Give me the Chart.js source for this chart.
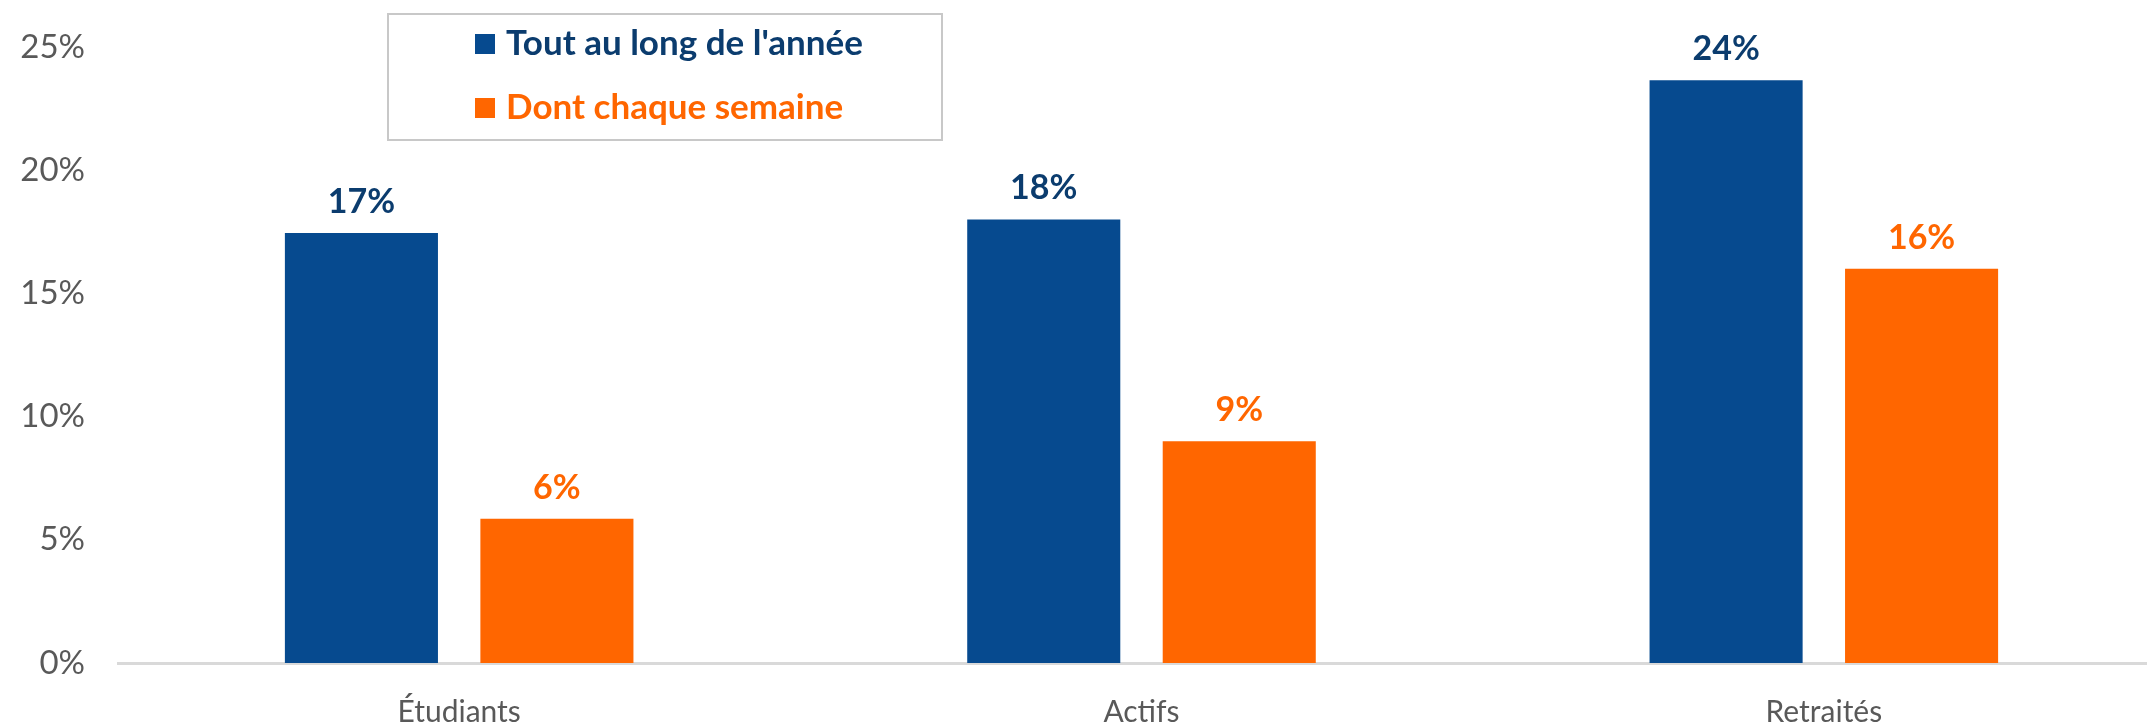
<!DOCTYPE html>
<html lang="fr">
<head>
<meta charset="UTF-8">
<title>Fréquence par statut</title>
<script src="https://cdn.jsdelivr.net/npm/chart.js"></script>
<style>
  html, body { margin: 0; padding: 0; background: #fff; overflow: hidden; }
  .chart-box { position: relative; width: 2165px; height: 761px; }
</style>
</head>
<body>
<div class="chart-box"><canvas id="chart"></canvas></div>
<script>
// données (en %)
const categories = ['Étudiants', 'Actifs', 'Retraités'];
const seriesNames = ["Tout au long de l'année", 'Dont chaque semaine'];
const toutAuLong = [17.45, 18.0, 23.65];
const chaqueSemaine = [5.85, 9.0, 16.0];
const yMax = 25;
const yStep = 5;

const barColors = ['#064A8F', '#FF6600'];
const labelColors = ['#0B3C6E', '#FF6600'];

// étiquettes de valeur au-dessus des barres
const valueLabels = {
  id: 'valueLabels',
  afterDatasetsDraw(chart) {
    const ctx = chart.ctx;
    ctx.save();
    ctx.font = 'bold 34px Lato';
    ctx.textAlign = 'center';
    ctx.textBaseline = 'alphabetic';
    chart.data.datasets.forEach((ds, i) => {
      chart.getDatasetMeta(i).data.forEach((bar, j) => {
        ctx.fillStyle = labelColors[i];
        ctx.fillText(Math.round(ds.data[j]) + '%', bar.x, bar.y - 20);
      });
    });
    ctx.restore();
  }
};

// légende encadrée en haut à gauche
const boxLegend = {
  id: 'boxLegend',
  afterDraw(chart) {
    const ctx = chart.ctx;
    ctx.save();
    ctx.strokeStyle = '#c8c8c8';
    ctx.lineWidth = 2;
    ctx.strokeRect(388, 14, 554, 126);
    ctx.font = 'bold 35px Lato';
    ctx.textBaseline = 'middle';
    ctx.textAlign = 'left';
    chart.data.datasets.forEach((ds, i) => {
      const y = 44 + i * 64;
      ctx.fillStyle = ds.backgroundColor;
      ctx.fillRect(475, y - 10, 20, 20);
      ctx.fillStyle = labelColors[i];
      ctx.fillText(ds.label, 506, y);
    });
    ctx.restore();
  }
};

new Chart(document.getElementById('chart'), {
  type: 'bar',
  data: {
    labels: categories,
    datasets: [
      { label: seriesNames[0], data: toutAuLong, backgroundColor: barColors[0] },
      { label: seriesNames[1], data: chaqueSemaine, backgroundColor: barColors[1] }
    ]
  },
  options: {
    responsive: true,
    maintainAspectRatio: false,
    animation: false,
    categoryPercentage: 0.573,
    barPercentage: 0.783,
    layout: { padding: { top: 47, left: 0, right: 0, bottom: 0 } },
    plugins: {
      legend: { display: false },
      tooltip: { enabled: false }
    },
    scales: {
      x: {
        grid: { display: false, drawTicks: false },
        border: { display: true, color: '#d9d9d9', width: 3 },
        ticks: { color: '#595959', font: { family: 'Lato', size: 30 }, padding: 31 }
      },
      y: {
        min: 0,
        max: yMax,
        grid: { display: false, drawTicks: false },
        border: { display: false },
        ticks: {
          stepSize: yStep,
          color: '#595959',
          font: { family: 'Lato', size: 33 },
          padding: 33,
          callback: v => v + '%'
        },
        afterFit(axis) {
          axis.width = 118;
          axis.paddingTop = 0;
          axis.paddingBottom = 0;
        }
      }
    }
  },
  plugins: [valueLabels, boxLegend]
});
</script>
</body>
</html>
